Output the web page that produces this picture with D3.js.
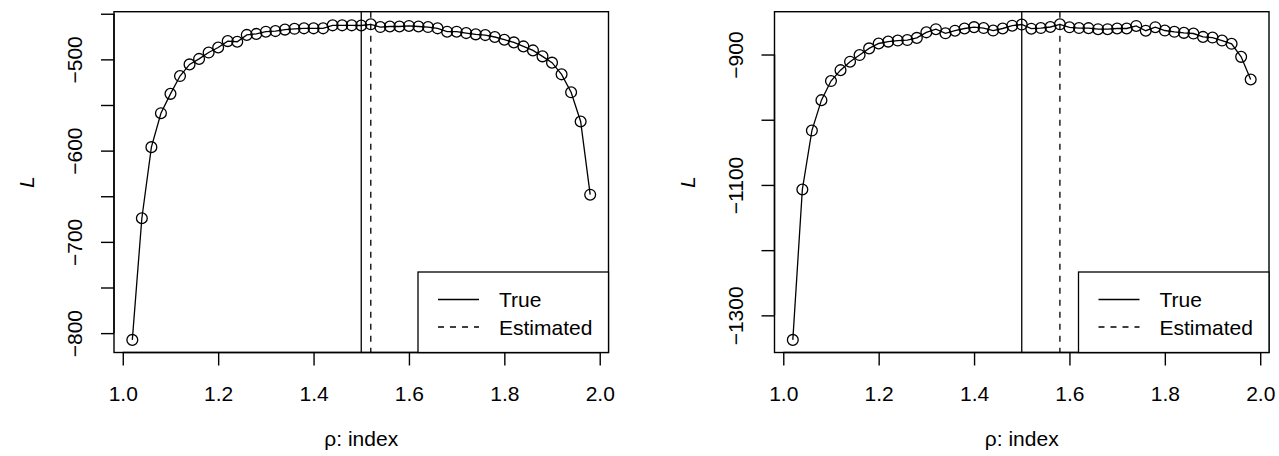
<html>
  <head>
    <script src="https://cdn.jsdelivr.net/npm/d3@7"></script>
    <style>
  body {
    margin: 0;
    padding: 0;
    background-color: #ffffff;
  }
  text {
    font-family: "Liberation Sans", Arial, sans-serif;
    font-size: 21px;
    fill: #000;
  }
    </style>
  </head>
  <body>
    <div id="chart"></div>
    <script>

// rho grid (x values of every point)
const rho = [1.02, 1.04, 1.06, 1.08, 1.10, 1.12, 1.14, 1.16, 1.18, 1.20,
             1.22, 1.24, 1.26, 1.28, 1.30, 1.32, 1.34, 1.36, 1.38, 1.40,
             1.42, 1.44, 1.46, 1.48, 1.50, 1.52, 1.54, 1.56, 1.58, 1.60,
             1.62, 1.64, 1.66, 1.68, 1.70, 1.72, 1.74, 1.76, 1.78, 1.80,
             1.82, 1.84, 1.86, 1.88, 1.90, 1.92, 1.94, 1.96, 1.98];

// profile log-likelihood, left panel
const leftL = [-807.4, -674.1, -596.2, -559.0, -537.8, -518.3, -505.5, -499.5, -492.5, -487.0,
               -480.0, -480.7, -473.2, -472.1, -469.7, -469.0, -467.4, -466.5, -466.0, -466.0,
               -466.0, -462.7, -462.7, -462.7, -462.9, -461.6, -464.6, -464.0, -464.0, -463.4,
               -464.0, -464.6, -466.0, -469.7, -469.7, -471.2, -472.6, -473.4, -475.5, -478.5,
               -481.4, -485.8, -490.2, -496.7, -503.6, -516.4, -536.1, -568.1, -648.3];

// profile log-likelihood, right panel
const rightL = [-1337.6, -1107.0, -1016.6, -970.0, -940.7, -924.0, -911.0, -900.8, -890.6, -883.1,
                -880.2, -878.6, -877.8, -874.5, -866.0, -861.2, -867.5, -863.5, -860.1, -858.0,
                -859.4, -863.2, -860.1, -855.8, -854.0, -860.4, -859.4, -857.8, -853.7, -858.3,
                -859.4, -859.6, -861.2, -861.2, -860.1, -860.1, -856.2, -863.5, -858.1, -863.2,
                -865.2, -866.8, -867.8, -873.0, -874.0, -878.6, -883.6, -903.6, -938.3];

const xTicks = [1.0, 1.2, 1.4, 1.6, 1.8, 2.0];
const leftYTicks = [-800, -750, -700, -650, -600, -550, -500, -450];
const leftYLabels = [-800, -700, -600, -500];
const rightYTicks = [-1300, -1200, -1100, -1000, -900];
const rightYLabels = [-1300, -1100, -900];

const trueRho = [1.5, 1.5];
const estRho = [1.52, 1.58];
const legendLabels = ["True", "Estimated"];

const width = 1279;
const height = 456;

const svg = d3.select("#chart")
  .append("svg")
  .attr("width", width)
  .attr("height", height)
  .style("display", "block");

svg.append("rect").attr("width", width).attr("height", height).attr("fill", "#fff");

const fmt = v => (v < 0 ? "\u2212" + Math.abs(v) : String(v));

// R style axis range: data range widened by 4% each side
function rRange(vals) {
  const ext = d3.extent(vals);
  const pad = (ext[1] - ext[0]) * 0.04;
  return [ext[0] - pad, ext[1] + pad];
}

function drawPanel(opts) {
  const left = opts.left, right = opts.left + 494.5;
  const top = 11.7, bottom = 352.5;
  const g = svg.append("g");

  const x = d3.scaleLinear().domain(rRange(rho)).range([left, right]);
  const y = d3.scaleLinear().domain(rRange(opts.values)).range([bottom, top]);

  // x axis
  const xAxis = d3.axisBottom(x)
    .tickValues(xTicks)
    .tickSize(13)
    .tickFormat(d3.format(".1f"));
  const gx = g.append("g").attr("transform", `translate(0,${bottom})`).call(xAxis);
  gx.select(".domain").attr("d", `M${x(xTicks[0])},0H${x(xTicks[xTicks.length - 1])}`).attr("stroke-width", 1.4);
  gx.selectAll(".tick line").attr("stroke-width", 1.4);
  gx.selectAll("text").attr("font-size", 21).attr("font-family", "Liberation Sans, Arial, sans-serif")
    .attr("y", 48.5).attr("dy", null);

  // y axis (ticks every step, labels only where R keeps them)
  const yAxis = d3.axisLeft(y)
    .tickValues(opts.yTicks)
    .tickSize(13)
    .tickFormat(d => (opts.yLabels.includes(d) ? fmt(d) : ""));
  const gy = g.append("g").attr("transform", `translate(${left},0)`).call(yAxis);
  gy.select(".domain").attr("d", `M0,${y(opts.yTicks[0])}V${y(opts.yTicks[opts.yTicks.length - 1])}`).attr("stroke-width", 1.4);
  gy.selectAll(".tick line").attr("stroke-width", 1.4);
  gy.selectAll("text")
    .attr("font-size", 21).attr("font-family", "Liberation Sans, Arial, sans-serif")
    .attr("x", null).attr("dy", null)
    .attr("text-anchor", "middle")
    .attr("transform", "translate(-32,0) rotate(-90)");

  // plot box
  g.append("rect")
    .attr("x", left).attr("y", top)
    .attr("width", right - left).attr("height", bottom - top)
    .attr("fill", "none").attr("stroke", "#000").attr("stroke-width", 1.4);

  // vertical reference lines
  g.append("line")
    .attr("x1", x(opts.trueRho)).attr("x2", x(opts.trueRho))
    .attr("y1", top).attr("y2", bottom)
    .attr("stroke", "#000").attr("stroke-width", 1.3);
  g.append("line")
    .attr("x1", x(opts.estRho)).attr("x2", x(opts.estRho))
    .attr("y1", top).attr("y2", bottom)
    .attr("stroke", "#000").attr("stroke-width", 1.3)
    .attr("stroke-dasharray", "6,6");

  // curve with open circles (type = "o")
  const pts = rho.map((r, i) => ({ r: r, v: opts.values[i] }));
  g.append("path")
    .datum(pts)
    .attr("fill", "none")
    .attr("stroke", "#000")
    .attr("stroke-width", 1.3)
    .attr("d", d3.line().x(d => x(d.r)).y(d => y(d.v)));
  g.selectAll(".pt")
    .data(pts)
    .enter()
    .append("circle")
    .attr("class", "pt")
    .attr("cx", d => x(d.r))
    .attr("cy", d => y(d.v))
    .attr("r", 5.4)
    .attr("fill", "none")
    .attr("stroke", "#000")
    .attr("stroke-width", 1.3);

  // legend (bottomright)
  const lw = 190.5, lh = 80.5;
  const lg = g.append("g").attr("transform", `translate(${right - lw},${bottom - lh})`);
  lg.append("rect").attr("width", lw).attr("height", lh)
    .attr("fill", "#fff").attr("stroke", "#000").attr("stroke-width", 1.3);
  legendLabels.forEach((lab, i) => {
    const cy = 27.5 + i * 27.5;
    lg.append("line")
      .attr("x1", 20).attr("x2", 61).attr("y1", cy).attr("y2", cy)
      .attr("stroke", "#000").attr("stroke-width", 1.3)
      .attr("stroke-dasharray", i === 1 ? "6,6" : null);
    lg.append("text")
      .attr("x", 81).attr("y", cy + 7.8)
      .attr("font-size", 22)
      .text(lab);
  });

  // axis titles
  g.append("text")
    .attr("x", (left + right) / 2).attr("y", 446)
    .attr("text-anchor", "middle")
    .text("\u03c1: index");
  g.append("text")
    .attr("transform", `translate(${left - 80},${(top + bottom) / 2}) rotate(-90)`)
    .attr("text-anchor", "middle")
    .attr("font-style", "italic")
    .text("L");
}

drawPanel({ left: 114, values: leftL, yTicks: leftYTicks, yLabels: leftYLabels, trueRho: trueRho[0], estRho: estRho[0] });
drawPanel({ left: 774.5, values: rightL, yTicks: rightYTicks, yLabels: rightYLabels, trueRho: trueRho[1], estRho: estRho[1] });

</script>
  </body>
</html>
